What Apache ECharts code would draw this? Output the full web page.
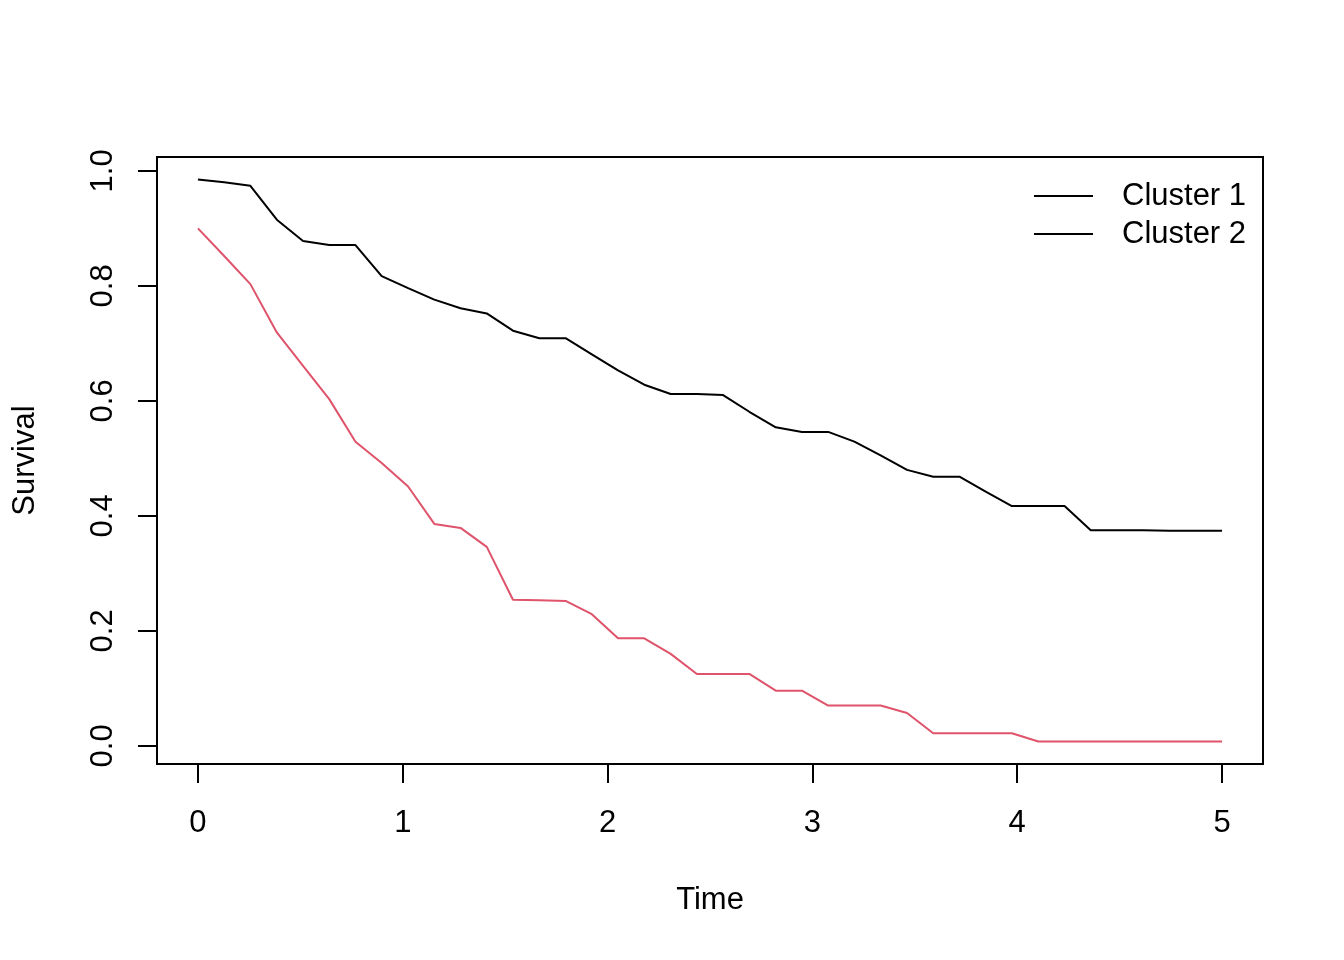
<!DOCTYPE html>
<html>
<head>
<meta charset="utf-8">
<script src="https://cdn.jsdelivr.net/npm/echarts@6/dist/echarts.min.js"></script>
<style>
  html, body { margin: 0; padding: 0; background: #fff; }
  #chart { width: 1344px; height: 960px; }
</style>
</head>
<body>
<div id="chart"></div>
<script>
// survival curves, 40 time points
const times = [0, 0.128, 0.256, 0.385, 0.513, 0.641, 0.769, 0.897, 1.026, 1.154,
  1.282, 1.410, 1.538, 1.667, 1.795, 1.923, 2.051, 2.179, 2.308, 2.436,
  2.564, 2.692, 2.821, 2.949, 3.077, 3.205, 3.333, 3.462, 3.590, 3.718,
  3.846, 3.974, 4.103, 4.231, 4.359, 4.487, 4.615, 4.744, 4.872, 5.000];
const cluster1 = [0.985, 0.980, 0.974, 0.915, 0.878, 0.871, 0.871, 0.817, 0.796, 0.776,
  0.761, 0.752, 0.722, 0.709, 0.709, 0.681, 0.653, 0.628, 0.612, 0.612,
  0.610, 0.581, 0.554, 0.546, 0.546, 0.529, 0.505, 0.480, 0.468, 0.468,
  0.442, 0.417, 0.417, 0.417, 0.375, 0.375, 0.375, 0.374, 0.374, 0.374];
const cluster2 = [0.900, 0.852, 0.803, 0.719, 0.661, 0.603, 0.529, 0.492, 0.451, 0.386,
  0.379, 0.346, 0.254, 0.253, 0.252, 0.229, 0.187, 0.187, 0.160, 0.125,
  0.125, 0.125, 0.096, 0.096, 0.070, 0.070, 0.070, 0.057, 0.022, 0.022,
  0.022, 0.022, 0.0075, 0.0075, 0.0075, 0.0075, 0.0075, 0.0075, 0.0075, 0.0075];
const xTicks = [0, 1, 2, 3, 4, 5];
const yTicks = [0, 0.2, 0.4, 0.6, 0.8, 1.0];

const FONT = 'Liberation Sans, Arial, Helvetica, sans-serif';

function pairs(ys) {
  return times.map(function (t, i) { return [t, ys[i]]; });
}

const chart = echarts.init(document.getElementById('chart'), null, { renderer: 'canvas' });

chart.setOption({
  backgroundColor: '#fff',
  animation: false,
  textStyle: { fontFamily: FONT, color: '#000' },
  grid: {
    left: 157, right: 81, top: 157, bottom: 196,
    show: true, borderColor: '#000', borderWidth: 2, backgroundColor: 'transparent'
  },
  legend: {
    left: 1029, top: 175, orient: 'vertical',
    icon: 'rect', itemWidth: 59, itemHeight: 2, itemGap: 6,
    textStyle: { fontFamily: FONT, fontSize: 31, color: '#000', lineHeight: 32, padding: [0, 0, 0, 24] },
    data: [
      { name: 'Cluster 1', itemStyle: { color: '#000' } },
      { name: 'Cluster 2', itemStyle: { color: '#000' } }
    ]
  },
  xAxis: {
    type: 'value', min: -0.2, max: 5.2,
    name: 'Time', nameLocation: 'middle', nameGap: 121,
    nameTextStyle: { fontFamily: FONT, fontSize: 31, color: '#000' },
    axisLine: { show: false, onZero: false },
    splitLine: { show: false },
    axisTick: { show: true, inside: false, length: 19, lineStyle: { color: '#000', width: 2 }, customValues: xTicks },
    axisLabel: { fontFamily: FONT, fontSize: 31, color: '#000', margin: 44, customValues: xTicks }
  },
  yAxis: {
    type: 'value', min: -0.0316, max: 1.0241,
    name: 'Survival', nameLocation: 'middle', nameGap: 116, nameRotate: 90,
    nameTextStyle: { fontFamily: FONT, fontSize: 31, color: '#000' },
    axisLine: { show: false, onZero: false },
    splitLine: { show: false },
    axisTick: { show: true, inside: false, length: 19, lineStyle: { color: '#000', width: 2 }, customValues: yTicks },
    axisLabel: {
      fontFamily: FONT, fontSize: 31, color: '#000', margin: 38, rotate: 90,
      customValues: yTicks,
      formatter: function (v) { return v.toFixed(1); }
    }
  },
  series: [
    {
      name: 'Cluster 1', type: 'line', data: pairs(cluster1),
      showSymbol: false, symbol: 'none',
      lineStyle: { color: '#000', width: 2 }, itemStyle: { color: '#000' }
    },
    {
      name: 'Cluster 2', type: 'line', data: pairs(cluster2),
      showSymbol: false, symbol: 'none',
      lineStyle: { color: '#DF536B', width: 2 }, itemStyle: { color: '#DF536B' }
    }
  ]
});
</script>
</body>
</html>
